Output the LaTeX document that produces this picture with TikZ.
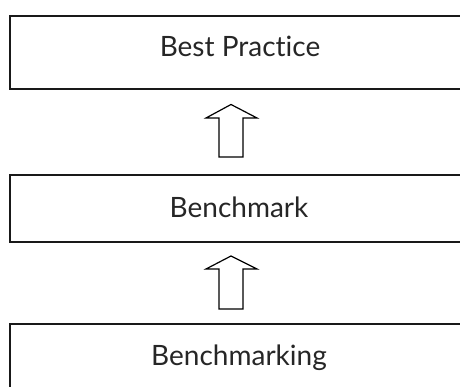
\documentclass[tikz,border=0pt]{standalone}
\usepackage{fontspec}
\setmainfont{Lato}[Ligatures=NoCommon]
\usetikzlibrary{calc}
\begin{document}
\begin{tikzpicture}[x=1pt,y=1pt,
  boxstyle/.style={draw=black!90, line width=1.6pt, rectangle, minimum width=460pt, inner sep=0pt},
  txt/.style={font=\fontsize{28}{30}\selectfont, text=black!85, text height=0.72em, text depth=0pt, inner sep=0pt},
  arr/.style={draw=black, line width=1.2pt, fill=white, line join=miter}]
\clip (0,0) rectangle (460,387);
% boxes
\node[boxstyle, minimum height=73pt] (b1) at (240,334.5) {};
\node[boxstyle, minimum height=67pt] (b2) at (240,178.5) {};
\node[boxstyle, minimum height=86pt] (b3) at (240,20) {};
% texts
\node[txt] (t1) at (240,334.5) {Best Practice};
\node[txt] (t2) at (239,173) {Benchmark};
\node[txt] (t3) at (239,25) {Benchmarking};
% arrows (shaft bottom to tip)
\coordinate (a1s) at (231,230);
\coordinate (a1t) at (231,282.5);
\coordinate (a2s) at (231,78);
\coordinate (a2t) at (231,131);
\draw[arr] ($(a1s)+(-12,0)$) -- ($(a1s)+(12,0)$) -- ($(a1t)+(12,-13.5)$) -- ($(a1t)+(26,-13.5)$) -- (a1t) -- ($(a1t)+(-25,-13.5)$) -- ($(a1t)+(-12,-13.5)$) -- cycle;
\draw[arr] ($(a2s)+(-12,0)$) -- ($(a2s)+(12,0)$) -- ($(a2t)+(12,-13)$) -- ($(a2t)+(26,-13)$) -- (a2t) -- ($(a2t)+(-25,-13)$) -- ($(a2t)+(-12,-13)$) -- cycle;
\end{tikzpicture}
\end{document}
